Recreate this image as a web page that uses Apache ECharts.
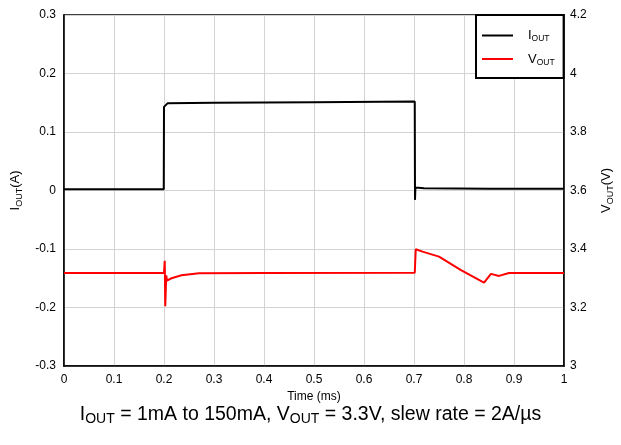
<!DOCTYPE html>
<html>
<head>
<meta charset="utf-8">
<script src="https://cdn.jsdelivr.net/npm/echarts@6/dist/echarts.min.js"></script>
<style>html,body{margin:0;padding:0;background:#fff;}#c{width:621px;height:445px;}</style>
</head>
<body>
<div id="c"></div>
<script>
// Time in ms
var timeI = [0, 0.1995, 0.2, 0.203, 0.207, 0.3, 0.5, 0.7015, 0.702, 0.7028, 0.72, 0.85, 1.0];
var currentA = [0.002, 0.002, 0.143, 0.146, 0.149, 0.150, 0.151, 0.152, -0.016, 0.005, 0.004, 0.003, 0.003];
var timeV = [0, 0.2, 0.2015, 0.2025, 0.2045, 0.206, 0.215, 0.235, 0.27, 0.4, 0.7015, 0.7035, 0.717, 0.75, 0.794, 0.84, 0.854, 0.87, 0.89, 1.0];
var voltageV = [3.318, 3.318, 3.36, 3.204, 3.31, 3.292, 3.300, 3.310, 3.317, 3.318, 3.319, 3.399, 3.391, 3.374, 3.328, 3.285, 3.315, 3.308, 3.318, 3.318];
var xTicks = [0, 0.1, 0.2, 0.3, 0.4, 0.5, 0.6, 0.7, 0.8, 0.9, 1];
var leftTicks = [-0.3, -0.2, -0.1, 0, 0.1, 0.2, 0.3];
var rightTicks = [3, 3.2, 3.4, 3.6, 3.8, 4, 4.2];
var seriesNames = ['IOUT', 'VOUT'];

function pairs(xs, ys) { return xs.map(function (x, i) { return [x, ys[i]]; }); }
var FONT = '"Liberation Sans", Arial, sans-serif';
var nameRich = {
  a: { fontSize: 13, fontFamily: FONT, color: '#000', lineHeight: 18, verticalAlign: 'middle' },
  b: { fontSize: 9, fontFamily: FONT, color: '#000', lineHeight: 9, verticalAlign: 'bottom' }
};
var chart = echarts.init(document.getElementById('c'), null, { renderer: 'canvas' });
chart.setOption({
  animation: false,
  backgroundColor: '#fff',
  grid: { left: 64, right: 57, top: 15, bottom: 79, containLabel: false, outerBoundsMode: 'none', show: true, borderColor: '#000', borderWidth: 1.5, backgroundColor: 'transparent' },
  legend: {
    orient: 'vertical', left: 476, top: 15,
    padding: [14, 9, 11, 6], itemWidth: 31, itemHeight: 2, itemGap: 9,
    icon: 'rect',
    borderColor: '#000', borderWidth: 2, backgroundColor: '#fff',
    data: seriesNames,
    formatter: function (n) { return '{a|' + n.charAt(0) + '}{b|' + n.slice(1) + '}'; },
    textStyle: { rich: {
      a: { fontSize: 13, fontFamily: FONT, color: '#000', lineHeight: 16, verticalAlign: 'middle', padding: [0, 0, 0, 10] },
      b: { fontSize: 8.5, fontFamily: FONT, color: '#000', lineHeight: 8, verticalAlign: 'bottom' }
    } }
  },
  xAxis: {
    type: 'value', min: xTicks[0], max: xTicks[xTicks.length - 1], interval: 0.1,
    name: 'Time (ms)', nameLocation: 'middle', nameGap: 22,
    nameTextStyle: { fontSize: 12, fontFamily: FONT, color: '#000' },
    axisLine: { show: true, onZero: false, lineStyle: { color: '#000', width: 1.5 } },
    axisTick: { show: false },
    axisLabel: { fontSize: 12, fontFamily: FONT, color: '#000', margin: 8 },
    splitLine: { show: true, lineStyle: { color: '#d3d3d3', width: 1 } }
  },
  yAxis: [{
    type: 'value', min: leftTicks[0], max: leftTicks[leftTicks.length - 1], interval: 0.1,
    name: '{a|I}{b|OUT}{a|(A)}', nameLocation: 'middle', nameGap: 36,
    nameTextStyle: { rich: nameRich },
    axisLine: { show: true, onZero: false, lineStyle: { color: '#000', width: 1.5 } },
    axisTick: { show: false },
    axisLabel: { fontSize: 12, fontFamily: FONT, color: '#000', margin: 8 },
    splitLine: { show: true, lineStyle: { color: '#d3d3d3', width: 1 } }
  }, {
    type: 'value', min: rightTicks[0], max: rightTicks[rightTicks.length - 1], interval: 0.2,
    position: 'right',
    name: '{a|V}{b|OUT}{a|(V)}', nameLocation: 'middle', nameGap: 33,
    nameTextStyle: { rich: nameRich },
    axisLine: { show: true, onZero: false, lineStyle: { color: '#000', width: 1.5 } },
    axisTick: { show: false },
    axisLabel: { fontSize: 12, fontFamily: FONT, color: '#000', margin: 6 },
    splitLine: { show: false }
  }],
  series: [{
    name: seriesNames[0], type: 'line', yAxisIndex: 0, symbol: 'none',
    data: pairs(timeI, currentA),
    lineStyle: { color: '#000', width: 2 }, itemStyle: { color: '#000' }
  }, {
    name: seriesNames[1], type: 'line', yAxisIndex: 1, symbol: 'none',
    data: pairs(timeV, voltageV),
    lineStyle: { color: '#ff0000', width: 2 }, itemStyle: { color: '#ff0000' }
  }],
  graphic: [{
    type: 'text', left: 'center', top: 405,
    style: {
      text: '{a|I}{b|OUT}{a| = 1mA to 150mA, V}{b|OUT}{a| = 3.3V, slew rate = 2A/µs}',
      rich: {
        a: { fontSize: 19.5, fontFamily: FONT, fill: '#000', lineHeight: 22, verticalAlign: 'middle' },
        b: { fontSize: 14, fontFamily: FONT, fill: '#000', lineHeight: 12, verticalAlign: 'bottom' }
      }
    }
  }]
});
</script>
</body>
</html>
